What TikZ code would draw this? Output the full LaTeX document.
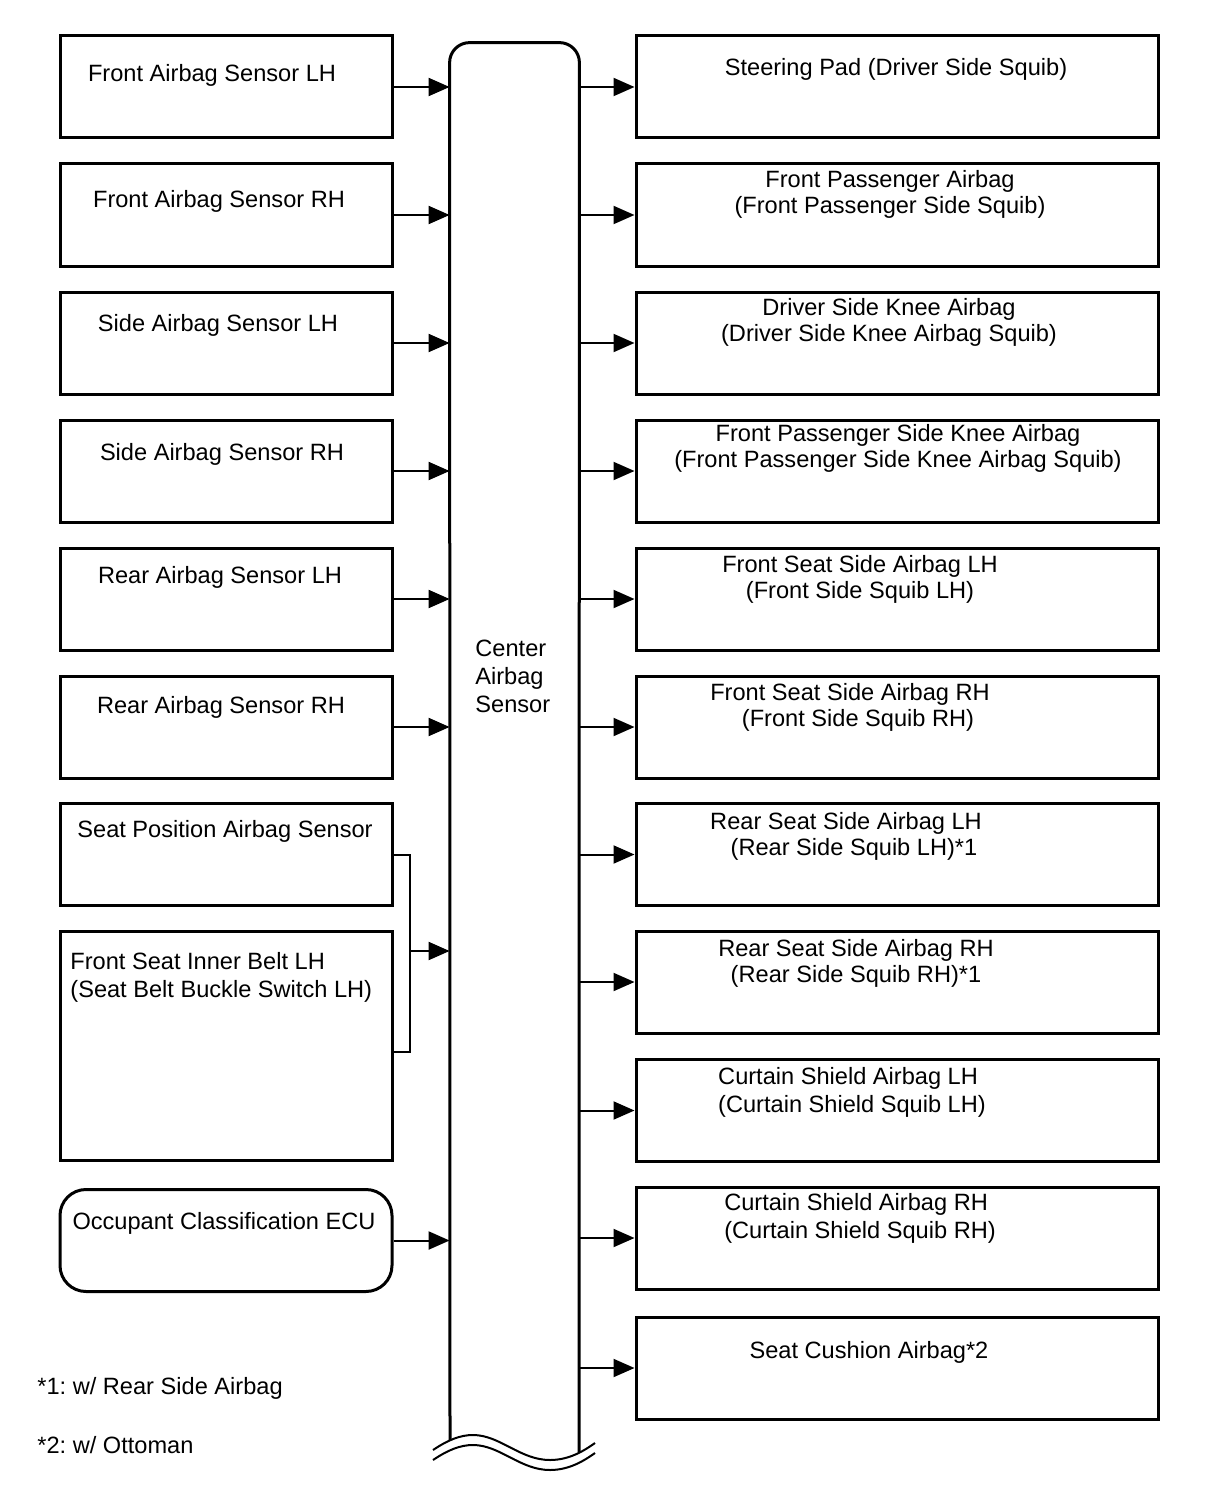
\documentclass[tikz,border=0pt]{standalone}
\usepackage{fontspec}
\setmainfont{Liberation Sans}
\usetikzlibrary{arrows.meta}
\frenchspacing

\tikzset{
  unit/.style={box/.style={draw, line width=1.5pt, minimum width=166pt, minimum height=51pt, inner sep=0pt}},
  outbox/.style={draw, line width=1.5pt, minimum width=261pt, minimum height=51pt, inner sep=0pt},
  txt/.style={font=\fontsize{11.8}{13}\selectfont, inner sep=0pt, align=center},
  arr/.style={line width=1pt, -{Triangle[length=10.5pt, width=9pt]}}
}

\begin{document}
\begin{tikzpicture}[x=0.5pt, y=-0.5pt, unit]
	  \useasboundingbox (0,0) rectangle (1210,1498);
	  % sensors, left column
	  \node[box] (fals) at (226,87) {};
	  \node[box] (fars) at (226,215) {};
	  \node[box] (sals) at (226,343) {};
	  \node[box] (sars) at (226,471) {};
	  \node[box] (rals) at (226,599) {};
	  \node[box] (rars) at (226,727) {};
	  \node[box] (spas) at (226,854.5) {};
	  \node[box, minimum height=114.5pt] (fsib) at (226,1045.5) {};
	  \node[box, rounded corners=13pt] (occ) at (226,1240.5) {};
	  \node[txt] (fals-t) at (212,75) {Front Airbag Sensor LH};
	  \node[txt] (fars-t) at (219,201) {Front Airbag Sensor RH};
	  \node[txt] (sals-t) at (218,325) {Side Airbag Sensor LH};
	  \node[txt] (sars-t) at (222,454) {Side Airbag Sensor RH};
	  \node[txt] (rals-t) at (220,577) {Rear Airbag Sensor LH};
	  \node[txt] (rars-t) at (221,707) {Rear Airbag Sensor RH};
	  \node[txt] (spas-t) at (225,831) {Seat Position Airbag Sensor};
	  \node[txt, anchor=west, align=left] (fsib-t) at (70,977) {Front Seat Inner Belt LH\\[1pt](Seat Belt Buckle Switch LH)};
	  \node[txt] (occ-t) at (224,1223) {Occupant Classification ECU};
	  % center airbag sensor
	  \node[minimum width=64.5pt, minimum height=703pt, inner sep=0pt] (bar) at (514.5,746) {};
	  \draw[line width=1.5pt, rounded corners=10pt] (450,1440) -- (bar.north west) -- (bar.north east) -- (579,1452);
	  \foreach \d in {0,10}
	    \draw[line width=1pt] (433,{1450+\d}) .. controls (448,{1440+\d}) and (460,{1435+\d}) .. (473,{1435+\d}) .. controls (500,{1435+\d}) and (520,{1460+\d}) .. (550,{1460+\d}) .. controls (570,{1460+\d}) and (585,{1450+\d}) .. (595,{1443+\d});
	  \node[txt, anchor=west, align=left, font=\fontsize{11.8}{14}\selectfont] (bar-t) at (475,676) {Center\\Airbag\\Sensor};
	  % squibs, right column
	  \foreach \n/\y in {sp/87,fpa/215,dka/343,fpka/471,fsl/599,fsr/727,rsl/854.5,rsr/982,csl/1110.5,csr/1238,sca/1368}
	    \node[outbox] (\n) at (897,\y) {};
	  \node[txt] (sp-t) at (896,69) {Steering Pad (Driver Side Squib)};
	  \node[txt] (fpa-t) at (890,194) {Front Passenger Airbag\\(Front Passenger Side Squib)};
	  \node[txt] (dka-t) at (889,322) {Driver Side Knee Airbag\\(Driver Side Knee Airbag Squib)};
	  \node[txt] (fpka-t) at (898,448) {Front Passenger Side Knee Airbag\\(Front Passenger Side Knee Airbag Squib)};
	  \node[txt] (fsl-t) at (860,579) {Front Seat Side Airbag LH\\(Front Side Squib LH)};
	  \node[txt] (fsr-t) at (850,707) {Front Seat Side Airbag RH\\\hspace*{8pt}(Front Side Squib RH)};
	  \node[txt] (rsl-t) at (846,836) {Rear Seat Side Airbag LH\\\hspace*{8pt}(Rear Side Squib LH)*1};
	  \node[txt] (rsr-t) at (856,963) {Rear Seat Side Airbag RH\\(Rear Side Squib RH)*1};
	  \node[txt, align=left] (csl-t) at (852,1092) {Curtain Shield Airbag LH\\[1pt](Curtain Shield Squib LH)};
	  \node[txt, align=left] (csr-t) at (860,1218) {Curtain Shield Airbag RH\\[1pt](Curtain Shield Squib RH)};
	  \node[txt] (sca-t) at (869,1352) {Seat Cushion Airbag*2};
	  % connections
	  \foreach \n in {fals,fars,sals,sars,rals,rars,occ}
	    \draw[arr] (\n.east) -- (\n.east -| bar.west);
	  \coordinate (brk) at (410,951);
	  \coordinate (brk-b) at (410,1052);
	  \draw[line width=1pt] (spas.east) -- (brk |- spas.east) -- (brk-b) -- (fsib.east |- brk-b);
	  \draw[arr] (brk) -- (brk -| bar.west);
	  \foreach \n in {sp,fpa,dka,fpka,fsl,fsr,rsl,rsr,csl,csr,sca}
	    \draw[arr] (bar.east |- \n.west) -- (\n.west);
	  % notes
	  \node[txt, anchor=west] (note1) at (37,1388) {*1: w/ Rear Side Airbag};
	  \node[txt, anchor=west] (note2) at (37,1445) {*2: w/ Ottoman};
	\end{tikzpicture}
\end{document}
